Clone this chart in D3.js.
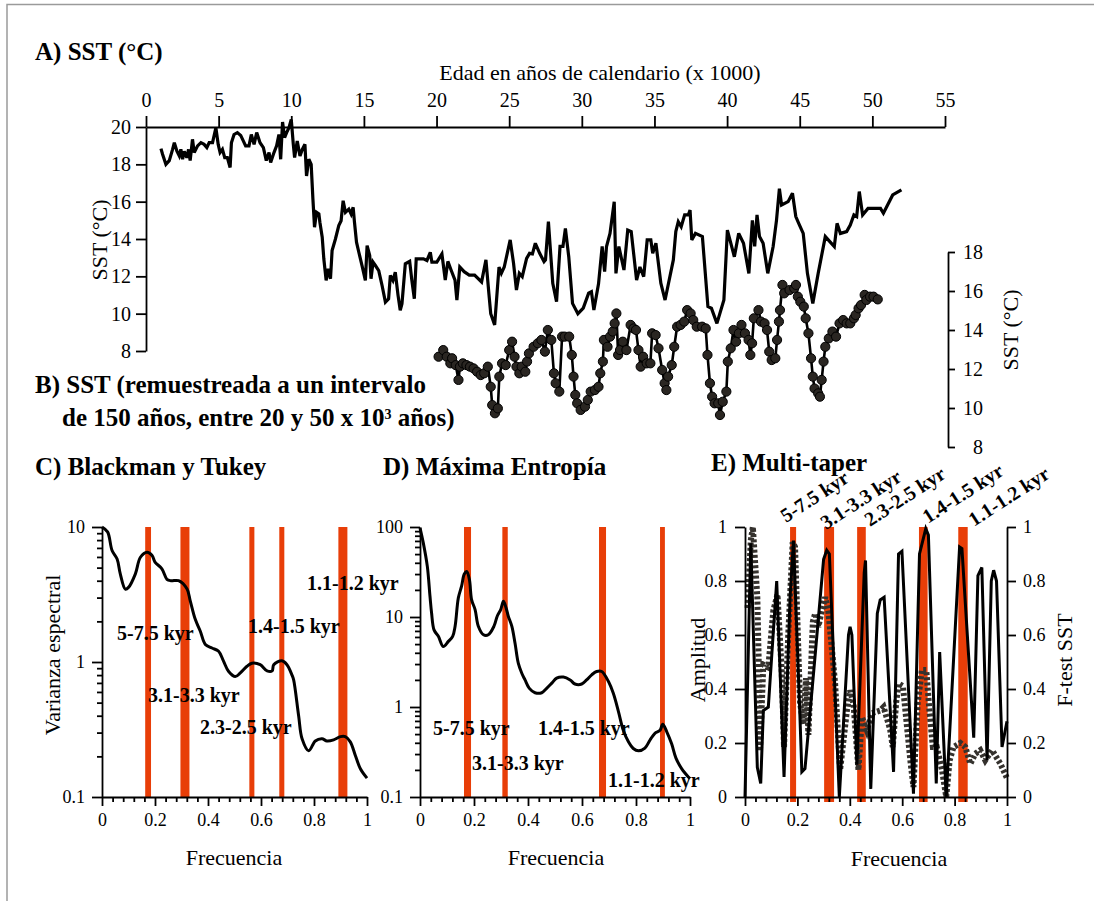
<!DOCTYPE html>
<html>
<head>
<meta charset="utf-8">
<script src="https://cdn.jsdelivr.net/npm/d3@7"></script>
<style>
  body { margin: 0; background: #fff; }
  svg { display: block; }
  svg text { font-family: "Liberation Serif", "Times New Roman", serif; }
</style>
</head>
<body>
<svg id="fig" width="1094" height="901"></svg>
<script>
// ---------- A) SST record (age in ka, SST in °C) ----------
const ageA = [1.03,1.14,1.37,1.6,1.83,1.95,2.13,2.29,2.4,2.52,2.63,2.81,2.93,3.04,3.2,3.32,3.55,3.78,4.0,4.19,4.35,4.58,4.81,4.97,5.1,5.26,5.42,5.6,5.79,5.88,6.06,6.29,6.52,6.86,7.09,7.25,7.44,7.62,7.85,8.08,8.28,8.47,8.58,8.81,8.99,9.15,9.27,9.4,9.54,9.68,9.84,10.0,10.14,10.23,10.41,10.6,10.76,10.94,11.05,11.21,11.37,11.49,11.6,11.74,11.9,11.97,12.13,12.24,12.4,12.54,12.7,12.81,13.04,13.27,13.43,13.57,13.73,13.96,14.12,14.26,14.35,14.49,14.65,14.87,15.1,15.22,15.4,15.49,15.63,15.79,16.02,16.25,16.48,16.7,16.82,17.0,17.16,17.35,17.5,17.62,17.85,18.15,18.3,18.47,18.6,18.76,19.1,19.34,19.57,19.68,20.02,20.37,20.6,20.78,21.0,21.27,21.4,21.6,21.9,22.25,22.62,23.1,23.4,23.6,23.73,24.0,24.3,24.46,24.66,25.07,25.3,25.5,25.7,25.9,26.2,26.4,26.6,26.8,27.1,27.4,27.5,27.7,28.0,28.26,28.5,28.7,28.87,29.1,29.36,29.73,30.1,30.47,30.66,30.83,31.15,31.4,31.57,31.7,31.94,32.23,32.35,32.55,32.9,33.16,33.4,33.77,34.0,34.26,34.5,34.75,34.88,35.1,35.44,35.73,36.3,36.47,36.64,36.84,37.08,37.33,37.45,37.57,37.82,38.3,38.68,38.92,39.3,39.78,40.02,40.5,40.8,41.13,41.5,41.74,41.9,42.06,42.23,42.48,42.8,43.17,43.4,43.6,43.75,44.2,44.5,44.73,44.93,45.24,45.53,45.9,46.27,46.76,47.38,47.57,47.8,48.23,48.48,48.73,48.92,49.1,49.33,49.7,50.56,50.76,51.4,52.0];
const sstA = [18.84,18.54,18.0,18.2,18.8,19.16,18.7,18.45,18.8,18.27,18.7,18.36,18.8,18.2,19.34,18.63,18.99,19.16,19.07,18.9,19.16,19.16,19.96,19.07,18.63,18.8,18.36,18.36,17.83,19.16,19.6,19.7,19.55,18.99,18.99,19.6,19.07,19.7,19.16,18.9,18.2,18.63,18.1,18.63,18.99,19.6,18.27,20.27,19.43,19.7,19.96,20.4,19.07,18.36,19.25,18.45,18.8,19.07,17.38,18.27,18.0,16.14,14.63,15.43,15.34,14.9,14.1,12.94,11.78,12.4,11.87,13.38,14.0,14.72,14.98,16.05,15.43,15.6,15.34,15.7,14.9,13.83,13.29,12.58,11.78,13.65,13.11,11.87,12.76,12.58,12.31,11.51,10.62,10.8,12.05,11.78,12.22,10.98,10.18,10.53,12.67,12.8,11.78,10.8,12.94,12.94,12.94,12.85,13.29,12.76,12.76,13.2,11.8,12.8,12.34,11.8,10.73,12.5,12.25,12.07,12.07,11.7,12.88,11.1,10.0,9.4,12.5,12.16,12.5,13.95,12.7,11.27,12.16,11.98,12.96,13.23,13.2,13.77,13.23,12.79,12.88,14.93,11.63,10.64,13.6,13.6,14.57,13.05,10.55,10.0,10.3,11.1,11.18,10.2,11.6,13.6,12.25,13.6,14.3,16.0,12.16,13.6,12.34,14.48,14.4,11.8,12.5,11.98,13.95,13.95,13.23,13.77,11.63,10.73,12.88,14.4,14.93,14.66,15.29,15.29,15.55,13.95,14.3,14.13,10.38,10.29,9.48,10.73,14.48,13.05,14.3,13.77,12.16,15.0,13.6,15.29,14.13,13.77,12.16,13.6,15.0,16.7,15.82,16.0,16.45,15.2,14.84,14.3,12.16,10.55,12.16,14.13,13.59,14.84,14.3,14.4,14.75,15.29,15.2,16.54,15.29,15.64,15.64,15.38,16.36,16.63];

// ---------- B) resampled SST, 20-50 ka ----------
const ageB = [20.14,20.46,20.7,20.95,21.07,21.32,21.51,21.61,21.81,22.06,22.3,22.55,22.79,23.04,23.28,23.53,23.73,23.83,24.02,24.22,24.32,24.51,24.76,25.0,25.2,25.37,25.5,25.7,25.86,26.11,26.23,26.36,26.68,26.97,27.22,27.46,27.66,27.9,28.08,28.2,28.45,28.64,28.82,29.13,29.31,29.43,29.55,29.68,29.92,30.22,30.41,30.61,30.9,31.15,31.27,31.45,31.52,31.77,31.94,32.13,32.26,32.38,32.5,32.63,32.82,33.07,33.36,33.56,33.73,33.9,34.05,34.22,34.47,34.72,34.84,35.08,35.28,35.53,35.7,35.82,35.94,36.19,36.36,36.56,36.8,37.05,37.25,37.49,37.67,37.91,38.28,38.53,38.65,38.82,38.97,39.14,39.39,39.51,39.7,39.95,40.05,40.25,40.44,40.62,40.81,40.99,41.23,41.48,41.6,41.72,41.84,42.16,42.33,42.58,42.75,42.9,43.07,43.32,43.44,43.57,43.64,43.81,43.93,44.3,44.62,44.74,44.87,45.04,45.28,45.41,45.6,45.78,45.9,46.02,46.27,46.39,46.51,46.64,46.76,47.0,47.25,47.5,47.74,47.99,48.23,48.48,48.73,48.85,49.05,49.22,49.47,49.59,49.84,50.08,50.37];
const sstB = [12.63,12.97,12.63,12.29,12.55,12.2,11.44,12.12,12.29,12.2,12.12,12.03,11.86,11.69,11.78,12.12,11.09,10.15,9.73,9.98,11.61,12.29,12.2,12.97,13.4,12.63,12.12,11.78,12.12,11.86,12.38,12.8,13.14,13.32,13.49,12.89,14.0,13.49,11.78,11.27,10.84,13.66,13.66,13.66,12.72,11.61,10.67,10.24,9.9,10.07,10.41,10.84,10.92,11.09,11.78,12.38,13.49,13.14,13.66,13.92,14.34,14.85,12.72,12.97,13.4,12.97,14.26,14.08,14.0,12.97,12.12,12.63,12.29,12.29,13.83,13.74,13.06,11.95,11.27,10.92,11.61,12.2,13.14,14.17,14.26,14.43,15.02,14.85,14.51,14.17,14.17,14.08,12.72,11.27,10.58,10.24,10.24,9.64,10.32,10.84,12.38,13.06,14.0,13.4,13.83,14.26,13.83,13.49,12.72,13.32,14.6,15.02,14.43,14.34,14.0,12.89,12.46,12.55,13.49,14.43,15.02,16.31,15.88,16.05,16.14,16.31,15.71,15.45,15.2,14.6,13.83,12.55,11.61,11.0,10.75,10.58,11.44,12.38,13.14,13.57,13.92,13.66,14.34,14.51,14.34,14.34,14.6,14.77,15.11,15.28,15.8,15.54,15.71,15.71,15.57];

// ---------- C) Blackman-Tukey spectrum ----------
const freqC = [0,0.021,0.038,0.057,0.069,0.088,0.1,0.126,0.145,0.17,0.189,0.2,0.226,0.245,0.26,0.289,0.321,0.333,0.352,0.371,0.39,0.415,0.44,0.459,0.478,0.503,0.522,0.547,0.566,0.597,0.623,0.642,0.648,0.679,0.698,0.717,0.723,0.742,0.755,0.78,0.805,0.83,0.849,0.874,0.9,0.918,0.937,0.956,0.975,1.0];
const varC = [10,9.2,6.7,5.8,4.5,3.47,3.57,4.5,5.97,6.5,6.15,5.5,4.9,4.1,4.0,4.0,3.47,2.84,2.07,1.69,1.35,1.27,1.2,1.01,0.85,0.78,0.83,0.93,0.98,0.955,0.86,0.86,0.955,1.02,0.955,0.8,0.74,0.4,0.27,0.22,0.26,0.27,0.26,0.265,0.28,0.28,0.256,0.203,0.162,0.138];

// ---------- D) Maximum-entropy spectrum ----------
const freqD = [0,0.012,0.027,0.037,0.043,0.052,0.068,0.086,0.105,0.121,0.13,0.142,0.154,0.164,0.173,0.183,0.191,0.204,0.216,0.235,0.253,0.274,0.286,0.299,0.309,0.319,0.327,0.34,0.352,0.364,0.377,0.389,0.405,0.426,0.451,0.469,0.488,0.506,0.531,0.556,0.574,0.599,0.617,0.636,0.654,0.673,0.698,0.716,0.735,0.753,0.772,0.79,0.809,0.833,0.852,0.87,0.889,0.899,0.914,0.932,0.948,0.969,0.994,1.0];
const varD = [98,67,36.7,17,11,7.2,6.1,4.7,5.36,6.1,7.9,16.3,22,30,32,26,15.6,12.1,7.9,6.35,6.35,7.9,10.2,12.1,15,12.6,10.2,7.9,5.1,3.07,2.37,2.0,1.61,1.44,1.44,1.61,1.84,2.09,2.15,2.0,1.8,1.8,2.0,2.28,2.48,2.48,1.92,1.42,0.89,0.55,0.41,0.346,0.326,0.35,0.43,0.51,0.55,0.645,0.53,0.39,0.27,0.207,0.167,0.16];

// ---------- E) Multi-taper amplitude and F-test ----------
const freqE = [0,0.022,0.047,0.06,0.07,0.089,0.121,0.149,0.172,0.185,0.208,0.217,0.229,0.27,0.3,0.312,0.322,0.36,0.395,0.401,0.408,0.427,0.455,0.46,0.48,0.505,0.516,0.531,0.567,0.586,0.599,0.643,0.666,0.69,0.7,0.73,0.743,0.768,0.819,0.828,0.873,0.889,0.904,0.924,0.94,0.949,0.96,0.981,1.0];
const ampE = [0,0.94,0.11,0.05,0.32,0.333,0.8,0.074,0.74,0.95,0.346,0.093,0.105,0.55,0.88,0.914,0.9,0,0.6,0.63,0.6,0.12,0.83,0.876,0.03,0.68,0.73,0.74,0.093,0.9,0.91,0.012,0.9,0.994,0.97,0.05,0.537,0,0.926,0.92,0.22,0.82,0.85,0.136,0.8,0.84,0.8,0.185,0.28];
const freqF = [0.01,0.022,0.03,0.047,0.053,0.057,0.07,0.089,0.108,0.124,0.14,0.149,0.165,0.182,0.191,0.21,0.223,0.233,0.242,0.259,0.268,0.28,0.293,0.306,0.318,0.344,0.363,0.389,0.401,0.414,0.433,0.446,0.465,0.484,0.516,0.529,0.554,0.564,0.577,0.586,0.603,0.631,0.643,0.659,0.675,0.692,0.704,0.717,0.732,0.752,0.768,0.781,0.796,0.822,0.841,0.86,0.879,0.898,0.917,0.943,0.975,1.0];
const ftestF = [0.7,0.95,1.0,0.74,0.47,0.17,0.49,0.48,0.69,0.75,0.47,0.185,0.6,0.944,0.926,0.35,0.27,0.44,0.23,0.65,0.68,0.63,0.69,0.74,0.69,0.42,0.1,0.32,0.395,0.346,0.1,0.296,0.247,0.31,0.32,0.333,0.25,0.185,0.35,0.42,0.41,0.136,0.037,0.346,0.47,0.47,0.32,0.185,0.185,0.1,0.0,0.136,0.185,0.2,0.185,0.123,0.16,0.173,0.136,0.173,0.123,0.07];

// ---------- significant frequency bands ----------
const bandsC = [[0.163,0.185],[0.296,0.330],[0.556,0.575],[0.669,0.688],[0.892,0.926]];
const bandsD = [[0.163,0.189],[0.305,0.325],[0.663,0.689],[0.889,0.907]];
const bandsE = [[0.172,0.195],[0.302,0.340],[0.428,0.461],[0.664,0.697],[0.814,0.850]];

// ---------- tick values ----------
const ageTicks = [0,5,10,15,20,25,30,35,40,45,50,55];
const sstTicksA = [8,10,12,14,16,18,20];
const sstTicksB = [8,10,12,14,16,18];
const varTicksC = [0.1,1,10];
const varTicksD = [0.1,1,10,100];
const freqTicks = [0,0.2,0.4,0.6,0.8,1];
const ampTicks = [0,0.2,0.4,0.6,0.8,1];

// ================= drawing =================
const SERIF = '"Liberation Serif", "Times New Roman", serif';
const svg = d3.select("#fig");
const BAND = "#e83e08";
const fmtFreq = d => (d === 0 ? "0" : d === 1 ? "1" : d.toFixed(1));

svg.append("rect").attr("width", 1094).attr("height", 901).attr("fill", "#fff");
// outer frame
svg.append("path").attr("d", "M7,901V4.5H1094").attr("fill", "none")
  .attr("stroke", "#9a9a9a").attr("stroke-width", 1.5);

function styleAxis(g, size) {
  g.attr("font-family", null).attr("font-size", null);
  g.selectAll("path.domain").attr("stroke", "#000").attr("stroke-width", 1.8);
  g.selectAll(".tick line").attr("stroke", "#000").attr("stroke-width", 1.8);
  g.selectAll(".tick text").attr("fill", "#000")
    .style("font-family", SERIF).style("font-size", size + "px");
}
function text(x, y, str, opts = {}) {
  const t = svg.append("text").attr("x", x).attr("y", y).text(str)
    .style("font-family", SERIF)
    .style("font-size", (opts.size || 22) + "px")
    .style("font-weight", opts.bold ? "bold" : "normal")
    .attr("text-anchor", opts.anchor || "start")
    .attr("fill", "#000");
  if (opts.rotate !== undefined) t.attr("transform", `rotate(${opts.rotate},${x},${y})`);
  return t;
}

// ---- panel A / B shared age scale ----
const xAge = d3.scaleLinear().domain([0, 55]).range([146, 945]);
const yA = d3.scaleLinear().domain([8, 20]).range([351, 127]);
const yB = d3.scaleLinear().domain([8, 18]).range([447, 252]);

const gTop = svg.append("g").attr("transform", "translate(0,127)")
  .call(d3.axisTop(xAge).tickValues(ageTicks).tickSize(11).tickSizeOuter(0).tickPadding(9));
styleAxis(gTop, 20);
const gLeftA = svg.append("g").attr("transform", "translate(146,0)")
  .call(d3.axisLeft(yA).tickValues(sstTicksA).tickSize(10).tickSizeOuter(0).tickPadding(5));
styleAxis(gLeftA, 20);

svg.append("path")
  .datum(ageA.map((a, i) => [a, sstA[i]]))
  .attr("fill", "none").attr("stroke", "#000").attr("stroke-width", 3.2)
  .attr("stroke-linejoin", "miter").attr("stroke-miterlimit", 3)
  .attr("d", d3.line().x(d => xAge(d[0])).y(d => yA(d[1])));

const gRightB = svg.append("g").attr("transform", "translate(948,0)")
  .call(d3.axisRight(yB).tickValues(sstTicksB).tickSize(7).tickSizeOuter(0).tickPadding(0));
styleAxis(gRightB, 20);
gRightB.selectAll(".tick text").attr("text-anchor", "end").attr("x", 35);

const ptsB = ageB.map((a, i) => [a, sstB[i]]);
svg.append("path").datum(ptsB)
  .attr("fill", "none").attr("stroke", "#000").attr("stroke-width", 2.6)
  .attr("d", d3.line().x(d => xAge(d[0])).y(d => yB(d[1])));
svg.append("g").selectAll("circle").data(ptsB).join("circle")
  .attr("cx", d => xAge(d[0])).attr("cy", d => yB(d[1])).attr("r", 4.6)
  .attr("fill", "#2a2622").attr("stroke", "#000").attr("stroke-width", 1);

text(35, 60, "A) SST (°C)", { bold: true, size: 25 });
text(600, 80, "Edad en años de calendario (x 1000)", { anchor: "middle" });
text(107, 240, "SST (°C)", { anchor: "middle", rotate: -90 });
text(1018, 330, "SST (°C)", { anchor: "middle", rotate: -90 });
text(35, 393, "B) SST (remuestreada a un intervalo", { bold: true, size: 25 });
const tB = text(62, 426, "de 150 años, entre 20 y 50 x 10", { bold: true, size: 25 });
tB.append("tspan").attr("baseline-shift", "super").style("font-size", "14px").text("3");
tB.append("tspan").text(" años)");

// ---- spectral panels ----
function freqAxis(x) {
  const gx = svg.append("g").attr("transform", "translate(0,797)")
    .call(d3.axisBottom(x).tickValues(freqTicks).tickFormat(fmtFreq).tickSize(9).tickSizeOuter(0).tickPadding(7));
  styleAxis(gx, 18);
  const minorX = d3.range(0, 1.0001, 0.04).filter(v => Math.abs(v / 0.2 - Math.round(v / 0.2)) > 1e-6);
  const gmx = svg.append("g").attr("transform", "translate(0,797)")
    .call(d3.axisBottom(x).tickValues(minorX).tickFormat("").tickSize(5).tickSizeOuter(0));
  styleAxis(gmx, 18);
  gmx.select("path.domain").remove();
}
function yAxisLog(x0, y, ticks, fmt) {
  const g = svg.append("g").attr("transform", `translate(${x0},0)`)
    .call(d3.axisLeft(y).tickValues(ticks).tickFormat(fmt).tickSize(10).tickSizeOuter(0).tickPadding(7));
  styleAxis(g, 18);
  const [lo, hi] = y.domain();
  const minors = [];
  for (let dec = lo; dec < hi * 0.999; dec *= 10) for (let k = 2; k <= 9; k++) minors.push(dec * k);
  const gm = svg.append("g").attr("transform", `translate(${x0},0)`)
    .call(d3.axisLeft(y).tickValues(minors).tickFormat("").tickSize(5).tickSizeOuter(0));
  styleAxis(gm, 18);
  gm.select("path.domain").remove();
}
function bands(x, data, top, bottom) {
  svg.append("g").selectAll("rect").data(data).join("rect")
    .attr("x", d => x(d[0])).attr("width", d => x(d[1]) - x(d[0]))
    .attr("y", top).attr("height", bottom - top).attr("fill", BAND);
}
const fmtLog = d => (d < 1 ? "0.1" : String(d));
const smooth = d3.curveCatmullRom.alpha(0.5);

// C) Blackman y Tukey
const yC = d3.scaleLog().domain([0.1, 10]).range([797, 527]);
const xC = d3.scaleLinear().domain([0, 1]).range([102, 367]);
bands(xC, bandsC, 527, 797);
svg.append("path").datum(freqC.map((f, i) => [f, varC[i]]))
  .attr("fill", "none").attr("stroke", "#000").attr("stroke-width", 3)
  .attr("d", d3.line().x(d => xC(d[0])).y(d => yC(d[1])).curve(smooth));
freqAxis(xC);
yAxisLog(102, yC, varTicksC, fmtLog);
[["5-7.5 kyr", 117, 640], ["1.4-1.5 kyr", 248, 633], ["1.1-1.2 kyr", 307, 590],
 ["3.1-3.3 kyr", 148, 702], ["2.3-2.5 kyr", 200, 734]]
  .forEach(([s, x, y]) => text(x, y, s, { bold: true, size: 20 }));
text(35, 475, "C) Blackman y Tukey", { bold: true, size: 25 });
text(60, 655, "Varianza espectral", { anchor: "middle", rotate: -90 });
text(234, 865, "Frecuencia", { anchor: "middle" });

// D) Máxima Entropía
const yD = d3.scaleLog().domain([0.1, 100]).range([797, 527]);
const xD = d3.scaleLinear().domain([0, 1]).range([420, 690]);
bands(xD, bandsD, 527, 797);
svg.append("path").datum(freqD.map((f, i) => [f, varD[i]]))
  .attr("fill", "none").attr("stroke", "#000").attr("stroke-width", 3)
  .attr("d", d3.line().x(d => xD(d[0])).y(d => yD(d[1])).curve(smooth));
freqAxis(xD);
yAxisLog(420, yD, varTicksD, fmtLog);
[["5-7.5 kyr", 433, 735], ["1.4-1.5 kyr", 538, 735], ["3.1-3.3 kyr", 472, 770], ["1.1-1.2 kyr", 608, 787]]
  .forEach(([s, x, y]) => text(x, y, s, { bold: true, size: 20 }));
text(383, 475, "D) Máxima Entropía", { bold: true, size: 25 });
text(556, 865, "Frecuencia", { anchor: "middle" });

// E) Multi-taper
const xE = d3.scaleLinear().domain([0, 1]).range([745, 1007]);
const yE = d3.scaleLinear().domain([0, 1]).range([797, 527]);
bands(xE, bandsE, 527, 802);
svg.append("path").datum(freqF.map((f, i) => [f, ftestF[i]]))
  .attr("fill", "none").attr("stroke", "#35322e").attr("stroke-width", 6)
  .attr("stroke-dasharray", "3 2.2")
  .attr("d", d3.line().x(d => xE(d[0])).y(d => yE(d[1])));
svg.append("path").datum(freqE.map((f, i) => [f, ampE[i]]))
  .attr("fill", "none").attr("stroke", "#000").attr("stroke-width", 3)
  .attr("d", d3.line().x(d => xE(d[0])).y(d => yE(d[1])));
freqAxis(xE);
const gEl = svg.append("g").attr("transform", "translate(745,0)")
  .call(d3.axisLeft(yE).tickValues(ampTicks).tickFormat(fmtFreq).tickSize(10).tickSizeOuter(0).tickPadding(8));
styleAxis(gEl, 18);
const gEr = svg.append("g").attr("transform", "translate(1007,0)")
  .call(d3.axisRight(yE).tickValues(ampTicks).tickFormat(fmtFreq).tickSize(9).tickSizeOuter(0).tickPadding(7));
styleAxis(gEr, 18);
[["5-7.5 kyr", 786, 523], ["3.1-3.3 kyr", 826, 530], ["2.3-2.5 kyr", 870, 527],
 ["1.4-1.5 kyr", 928, 524], ["1.1-1.2 kyr", 974, 527]]
  .forEach(([s, x, y]) => text(x, y, s, { bold: true, size: 20, rotate: -33 }));
text(711, 471, "E) Multi-taper", { bold: true, size: 25 });
text(705, 660, "Amplitud", { anchor: "middle", rotate: -90 });
text(1072, 660, "F-test SST", { anchor: "middle", rotate: -90 });
text(899, 866, "Frecuencia", { anchor: "middle" });
</script>
</body>
</html>
